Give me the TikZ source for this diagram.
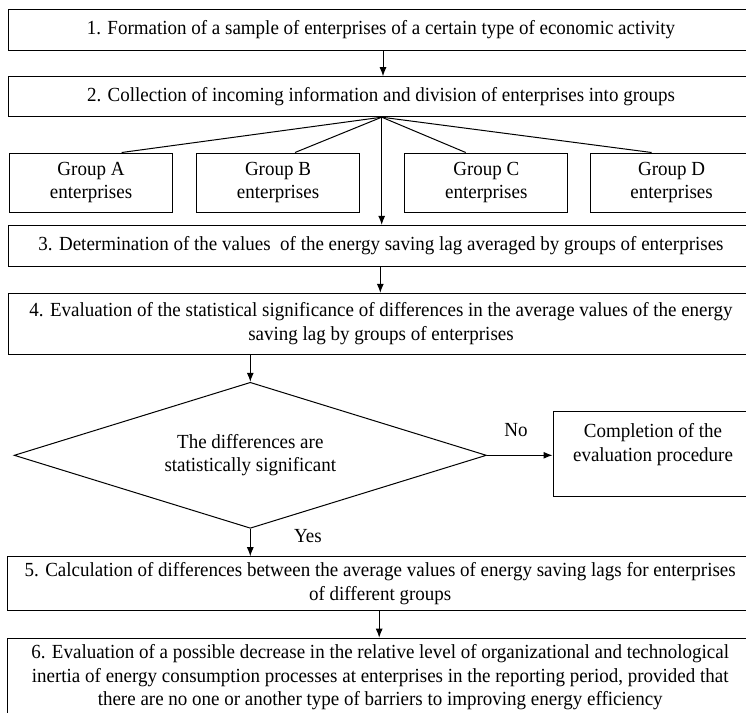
\documentclass[tikz,border=0pt]{standalone}
\usepackage{fontspec}
\setmainfont[FakeStretch=0.95]{Liberation Serif}
\usetikzlibrary{shapes.geometric,arrows.meta,calc}
\begin{document}
\begin{tikzpicture}[x=1pt,y=-1pt,
  every node/.style={font=\fontsize{20}{23.5}\selectfont, inner sep=0pt},
  wide/.style={draw, line width=1pt, minimum width=745.7pt, align=center},
  grp/.style={draw, line width=1pt, minimum width=163pt, minimum height=59pt, align=center},
  arr/.style={line width=1pt, -{Latex[length=9pt,width=7pt]}},
  ln/.style={line width=1pt}]
\useasboundingbox (0,0) rectangle (746,712);
\node[wide, minimum height=40.5pt] (b1) at (381,29.75) {1. Formation of a sample of enterprises of a certain type of economic activity};
\node[wide, minimum height=40pt] (b2) at (381,96.7) {2. Collection of incoming information and division of enterprises into groups};
\node[grp] (ga) at (91,182.5) {Group A\\enterprises};
\node[grp] (gb) at (278,182.5) {Group B\\enterprises};
\node[grp] (gc) at (486.3,182.5) {Group C\\enterprises};
\node[grp] (gd) at (671.6,182.5) {Group D\\enterprises};
\node[wide, minimum height=40.7pt] (b3) at (381,245.7) {3. Determination of the values\ \ of the energy saving lag averaged by groups of enterprises};
\node[wide, minimum height=60.7pt] (b4) at (381,323.7) {4. Evaluation of the statistical significance of differences in the average values of the energy\\saving lag by groups of enterprises};
\node[draw, line width=1pt, shape=diamond, aspect=3.235, minimum width=472.3pt, minimum height=146pt, align=center] (dd) at (250.3,455.3) {The differences are\\statistically significant};
\node[draw, line width=1pt, minimum width=200pt, minimum height=85pt, align=center] (comp) at (653,454.2) {Completion of the\\evaluation procedure\\\mbox{}};
\node (no) at (516,430) {No};
\node (yes) at (308,535.7) {Yes};
\node[wide, minimum height=54pt] (b5) at (380.2,583.7) {5. Calculation of differences between the average values of energy saving lags for enterprises\\of different groups};
\node[wide, minimum height=78pt, anchor=north] (b6) at (380.2,637.7) {6. Evaluation of a possible decrease in the relative level of organizational and technological\\inertia of energy consumption processes at enterprises in the reporting period, provided that\\there are no one or another type of barriers to improving energy efficiency};
\coordinate (fan) at ([xshift=0.7pt]b2.south);
\draw[arr] ([xshift=2pt]b1.south) -- ([xshift=2pt]b2.north);
\draw[ln] (fan) -- ([xshift=30.7pt]ga.north);
\draw[ln] (fan) -- ([xshift=17pt]gb.north);
\draw[ln] (fan) -- ([xshift=-20.6pt]gc.north);
\draw[ln] (fan) -- ([xshift=-20pt]gd.north);
\draw[arr] (fan) -- (fan |- b3.north);
\draw[arr] ([xshift=-0.7pt]b3.south) -- ([xshift=-0.7pt]b4.north);
\draw[arr] (dd.north |- b4.south) -- (dd.north);
\draw[arr] (dd.east) -- (dd.east -| comp.west);
\draw[arr] (dd.south) -- (dd.south |- b5.north);
\draw[arr] ([xshift=-1pt]b5.south) -- ([xshift=-1pt]b6.north);
\end{tikzpicture}
\end{document}
